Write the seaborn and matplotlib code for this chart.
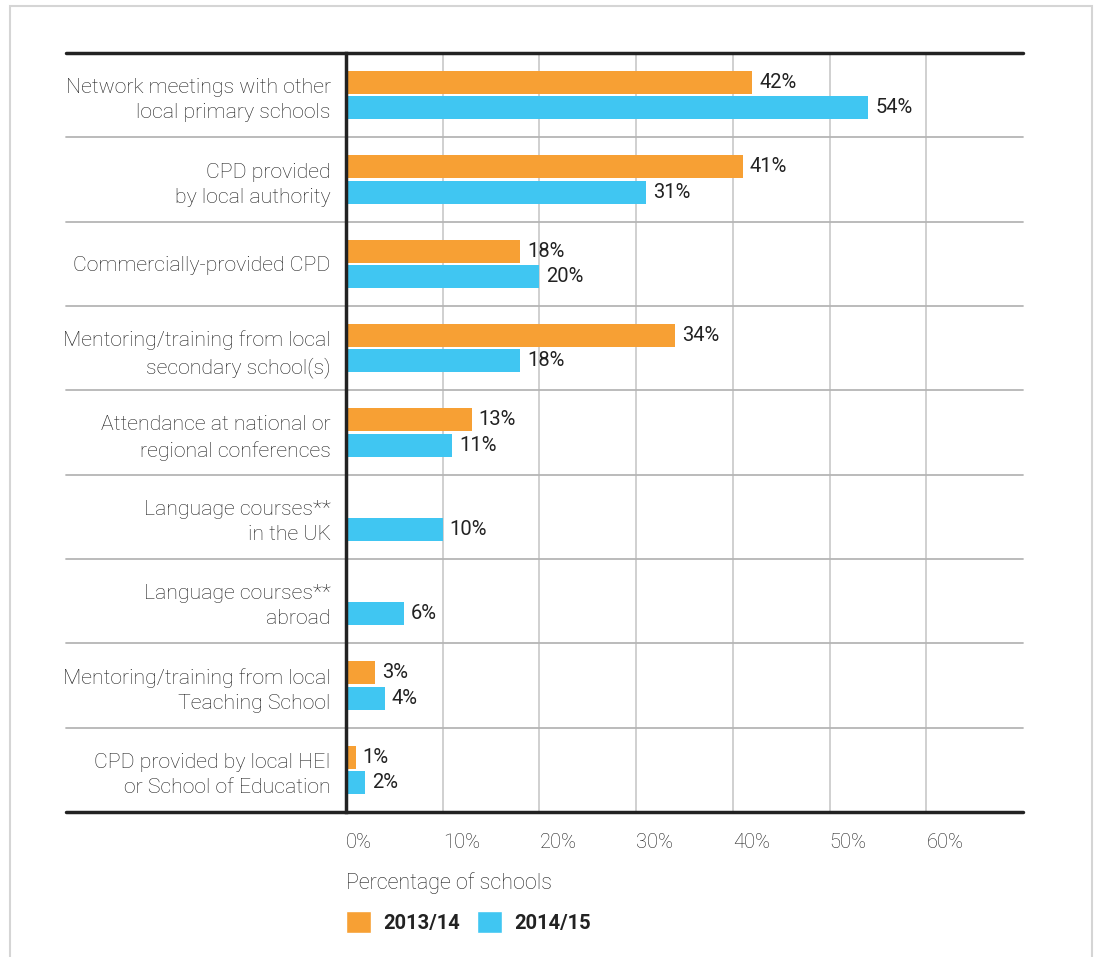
import numpy as np
import pandas as pd
import matplotlib.pyplot as plt
import seaborn as sns
from matplotlib.patches import Rectangle, Patch

categories = [
    "Network meetings with other\nlocal primary schools",
    "CPD provided\nby local authority",
    "Commercially-provided CPD",
    "Mentoring/training from local\nsecondary school(s)",
    "Attendance at national or\nregional conferences",
    "Language courses**\nin the UK",
    "Language courses**\nabroad",
    "Mentoring/training from local\nTeaching School",
    "CPD provided by local HEI\nor School of Education",
]
years = ["2013/14", "2014/15"]
vals_1314 = [42, 41, 18, 34, 13, np.nan, np.nan, 3, 1]
vals_1415 = [54, 31, 20, 18, 11, 10, 6, 4, 2]
xticks = [0, 10, 20, 30, 40, 50, 60]

orange = "#F7A034"
blue = "#40C6F2"
txt = "#1e1e1e"

df = pd.DataFrame({
    "category": categories * 2,
    "year": [years[0]] * len(categories) + [years[1]] * len(categories),
    "value": vals_1314 + vals_1415,
})

sns.set_style("white")
plt.rcParams["font.family"] = ["Roboto", "DejaVu Sans"]

W, H = 1096, 957
fig = plt.figure(figsize=(W / 100, H / 100), dpi=100)
ax = fig.add_axes([346 / W, 1 - 812 / H, (1023 - 346) / W, (812 - 53) / H])

sns.barplot(data=df, y="category", x="value", hue="year", order=categories,
            hue_order=years, palette=[orange, blue], orient="h", width=0.6,
            gap=0.1, saturation=1, linewidth=0, legend=False, ax=ax, zorder=3)

for c in ax.containers:
    ax.bar_label(c, fmt="{:.0f}%", padding=5, fontsize=14.5, color="#222222",
                 zorder=4)

ax.set_xlim(0, 70)
ax.set_ylim(len(categories) - 0.5, -0.5)
ax.set_xticks(xticks)
ax.set_xticklabels([f"{t}%" for t in xticks], ha="left", fontsize=14.5,
                   color="#1e1e1e", fontweight="light")
ax.tick_params(axis="x", length=10, width=1.2, color="#bbbbbb", pad=5)
ax.xaxis.get_major_ticks()[0].tick1line.set_color("#222222")
ax.xaxis.get_major_ticks()[0].tick1line.set_markeredgewidth(2.5)
ax.tick_params(axis="y", length=0, pad=11)
for lab in ax.get_yticklabels():
    lab.set_fontsize(15.3)
    lab.set_color(txt)
    lab.set_fontweight("light")
    lab.set_linespacing(1.42)
ax.set_ylabel("")
ax.set_xlabel("")
ax.grid(axis="x", color="#c8c8c8", lw=1.2, zorder=0)
ax.set_axisbelow(True)
for s in ["top", "right", "bottom"]:
    ax.spines[s].set_visible(False)
ax.spines["left"].set_color("#222222")
ax.spines["left"].set_linewidth(2.5)
ax.spines["left"].set_zorder(5)

ext = -(346 - 66) / (1023 - 346)
for y in np.arange(0.5, len(categories) - 0.5, 1):
    ax.axhline(y, xmin=ext, xmax=1, color="#b5b5b5", lw=1.3, clip_on=False, zorder=1)
for y in [-0.5, len(categories) - 0.5]:
    ax.axhline(y, xmin=ext, xmax=1, color="#222222", lw=2.5, clip_on=False, zorder=6)

fig.text(346 / W, 1 - 883 / H, "Percentage of schools", fontsize=15.5,
         color=txt, fontweight="light", va="center", ha="left")

handles = [Patch(facecolor=orange, label=years[0]), Patch(facecolor=blue, label=years[1])]
leg = fig.legend(handles=handles, loc="upper left", bbox_to_anchor=(346 / W, 1 - 911 / H),
                 ncol=2, frameon=False, handlelength=1.25, handleheight=1.3,
                 handletextpad=0.6, columnspacing=0.85, borderpad=0, borderaxespad=0,
                 prop={"size": 14.5, "weight": "bold"})
for t in leg.get_texts():
    t.set_color("#222222")

fig.patches.append(Rectangle((10 / W, -0.1), (1092 - 10) / W, 1.1 - 6 / H,
                             transform=fig.transFigure, fill=False,
                             edgecolor="#d5d5d5", lw=1.5))

fig.savefig("out.png", dpi=100)
